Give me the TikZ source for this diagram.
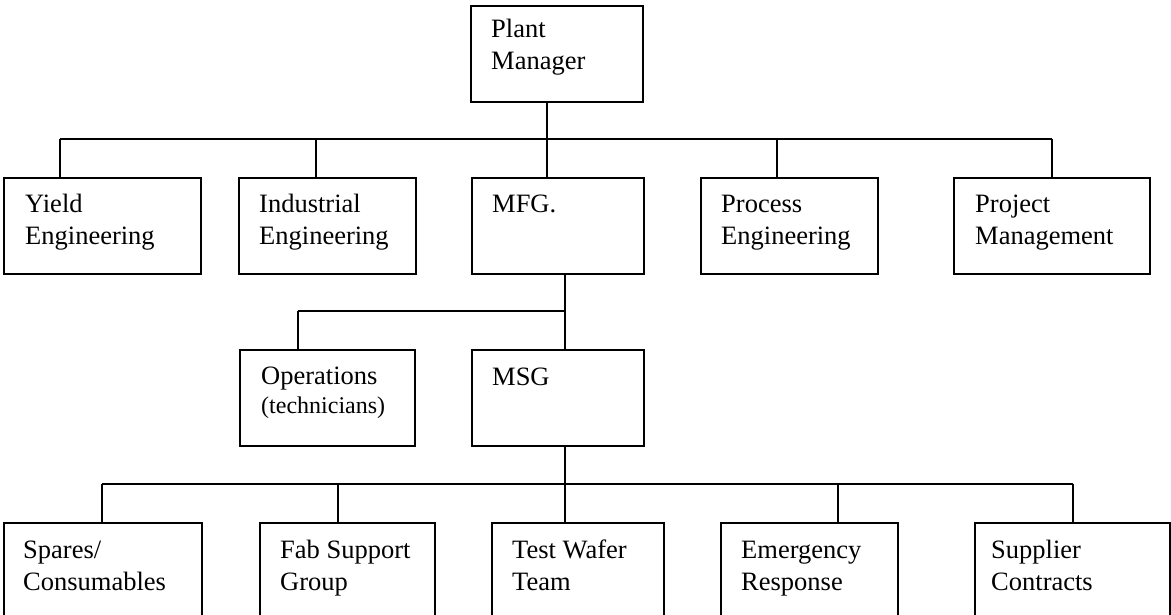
\documentclass[tikz,border=0pt]{standalone}
\usepackage{fontspec}
\setmainfont{Liberation Serif}
\begin{document}
\begin{tikzpicture}[x=1pt,y=-1pt,
  box/.style={draw=black,line width=1.9pt,fill=none,inner sep=0pt,anchor=north west,minimum height=96pt},
  txt/.style={anchor=base west,inner sep=0pt,text width=180pt,align=flush left,font=\fontsize{26.5}{32}\selectfont},
  conn/.style={draw=black,line width=1.9pt}]
\useasboundingbox (0,0) rectangle (1171,615);
\clip (0,0) rectangle (1171,615);
% boxes
\node[box,minimum width=172pt] (pm) at (470,5) {};
\node[box,minimum width=197pt] (yield) at (3,177) {};
\node[box,minimum width=177pt] (ind) at (238,177) {};
\node[box,minimum width=172pt] (mfg) at (471,177) {};
\node[box,minimum width=177pt] (proc) at (700,177) {};
\node[box,minimum width=196pt] (proj) at (953,177) {};
\node[box,minimum width=175pt] (ops) at (239,349) {};
\node[box,minimum width=172pt] (msg) at (471,349) {};
\node[box,minimum width=198pt] (spares) at (3,522) {};
\node[box,minimum width=175pt] (fab) at (259,522) {};
\node[box,minimum width=172pt] (test) at (491,522) {};
\node[box,minimum width=177pt] (emer) at (720,522) {};
\node[box,minimum width=195pt] (supp) at (974,522) {};
% texts
\node[txt] (pmt) at ([shift={(21,33)}]pm.north west) {Plant\\Manager};
\node[txt] (yieldt) at ([shift={(22,36)}]yield.north west) {Yield\\Engineering};
\node[txt] (indt) at ([shift={(21,36)}]ind.north west) {Industrial\\Engineering};
\node[txt] (mfgt) at ([shift={(21,36)}]mfg.north west) {MFG.};
\node[txt] (proct) at ([shift={(21,36)}]proc.north west) {Process\\Engineering};
\node[txt] (projt) at ([shift={(22,36)}]proj.north west) {Project\\Management};
\node[txt] (opst) at ([shift={(22,35)}]ops.north west) {Operations\\[-3pt]{\fontsize{24}{29}\selectfont(technicians)}};
\node[txt] (msgt) at ([shift={(21,36)}]msg.north west) {MSG};
\node[txt] (sparest) at ([shift={(20,36)}]spares.north west) {Spares/\\Consumables};
\node[txt] (fabt) at ([shift={(21,36)}]fab.north west) {Fab Support\\Group};
\node[txt] (testt) at ([shift={(21,36)}]test.north west) {Test Wafer\\Team};
\node[txt] (emert) at ([shift={(21,36)}]emer.north west) {Emergency\\Response};
\node[txt] (suppt) at ([shift={(17,36)}]supp.north west) {Supplier\\Contracts};
% bus coordinates
\coordinate (b1) at (547,139);
\coordinate (b1a) at (60,139);
\coordinate (b1b) at (316,139);
\coordinate (b1d) at (777,139);
\coordinate (b1e) at (1052,139);
\coordinate (b2) at (565,311);
\coordinate (b2a) at (298,311);
\coordinate (b3) at (565,484);
\coordinate (b3a) at (102,484);
\coordinate (b3b) at (338,484);
\coordinate (b3d) at (838,484);
\coordinate (b3e) at (1073,484);
% level 1
\draw[conn] (b1 |- pm.south) -- (b1 |- mfg.north);
\draw[conn] (b1a) -- (b1e);
\draw[conn] (b1a) -- (b1a |- yield.north);
\draw[conn] (b1b) -- (b1b |- ind.north);
\draw[conn] (b1d) -- (b1d |- proc.north);
\draw[conn] (b1e) -- (b1e |- proj.north);
% level 2
\draw[conn] (b2 |- mfg.south) -- (b2 |- msg.north);
\draw[conn] (b2a) -- (b2);
\draw[conn] (b2a) -- (b2a |- ops.north);
% level 3
\draw[conn] (b3 |- msg.south) -- (b3 |- test.north);
\draw[conn] (b3a) -- (b3e);
\draw[conn] (b3a) -- (b3a |- spares.north);
\draw[conn] (b3b) -- (b3b |- fab.north);
\draw[conn] (b3d) -- (b3d |- emer.north);
\draw[conn] (b3e) -- (b3e |- supp.north);
\end{tikzpicture}
\end{document}
